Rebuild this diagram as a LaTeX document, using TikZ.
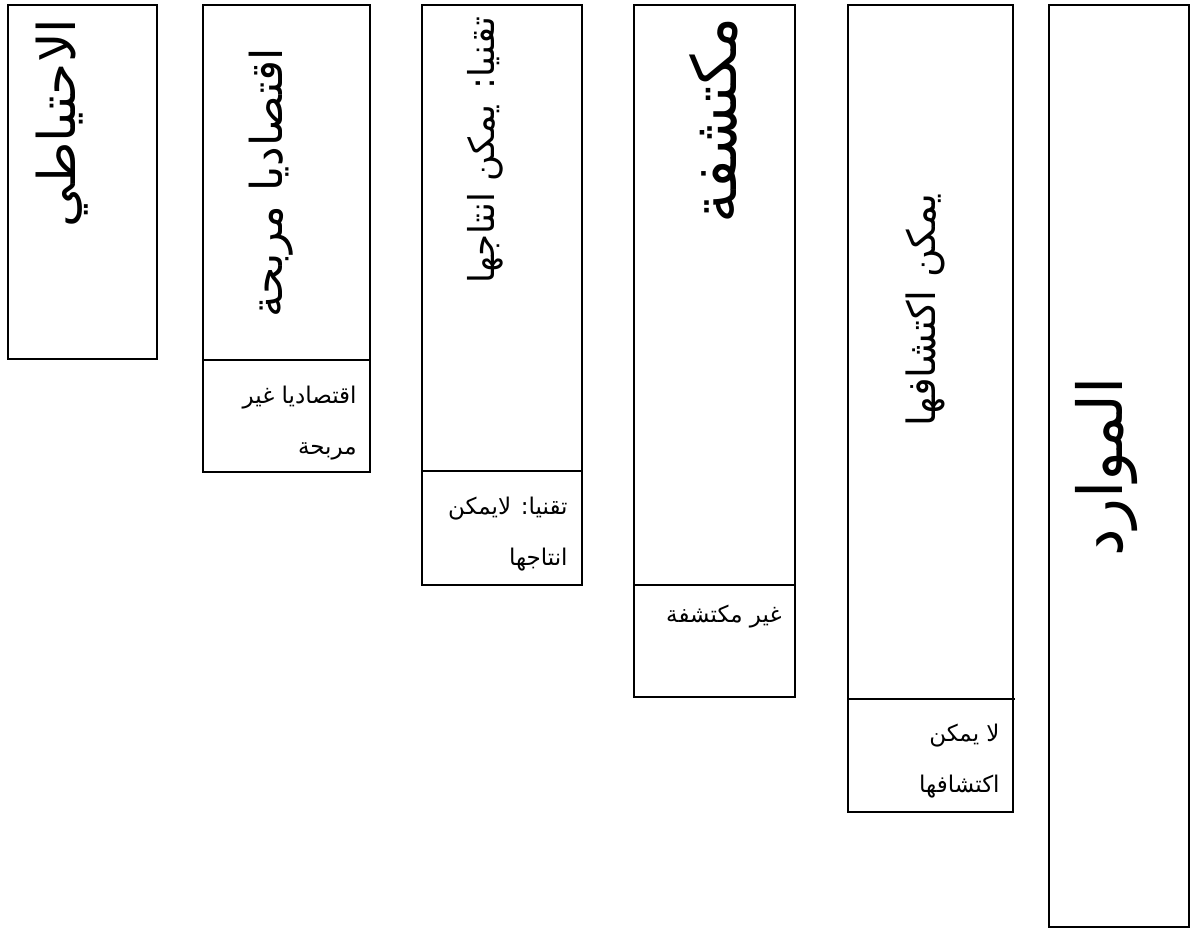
\documentclass[tikz,border=0pt]{standalone}
\usepackage{fontspec}
\newfontfamily\arabicfont[Script=Arabic]{DejaVu Sans}
\TeXXeTstate=1
\begin{document}
\begin{tikzpicture}[x=0.5pt,y=-0.5pt,
  box/.style={draw, line width=1pt},
  big/.style={font=\arabicfont, rotate=90, inner sep=0pt},
  small/.style={font=\arabicfont\fontsize{11.5}{25.5}\selectfont, align=right, anchor=north east, inner sep=0pt}]
\useasboundingbox (0,0) rectangle (1194,932);
% boxes
\draw[box] (8,5) rectangle (157,359);
\draw[box] (203,5) rectangle (370,472);
\draw[box] (203,360) -- (370,360);
\draw[box] (422,5) rectangle (582,585);
\draw[box] (422,471) -- (582,471);
\draw[box] (634,5) rectangle (795,697);
\draw[box] (634,585) -- (795,585);
\draw[box] (848,5) rectangle (1013,812);
\draw[box] (848,699) -- (1015,699);
\draw[box] (1049,5) rectangle (1189,927);
% rotated titles
\node[big] (t1) at (62,123) {\fontsize{26}{30}\selectfont\beginR الاحتياطي\endR};
\node[big] (t2) at (271,183) {\fontsize{22}{26}\selectfont\beginR اقتصاديا مربحة\endR};
\node[big] (t3) at (485,150) {\fontsize{17.8}{21}\selectfont\beginR تقنيا: يمكن انتاجها\endR};
\node[big] (t4) at (714,120) {\fontsize{31}{35}\selectfont\beginR مكتشفة\endR};
\node[big] (t5) at (925,310) {\fontsize{19.5}{23}\selectfont\beginR يمكن اكتشافها\endR};
\node[big] (t6) at (1107,467) {\fontsize{31}{35}\selectfont\beginR الموارد\endR};
% lower texts
\node[small] (s2) at (357,386) {\beginR اقتصاديا غير\endR\\\beginR مربحة\endR};
\node[small] (s3) at (568,497) {\beginR تقنيا: لايمكن\endR\\\beginR انتاجها\endR};
\node[small] (s4) at (782,605) {\beginR غير مكتشفة\endR};
\node[small] (s5) at (1000,724) {\beginR لا يمكن\endR\\\beginR اكتشافها\endR};
\end{tikzpicture}
\end{document}
